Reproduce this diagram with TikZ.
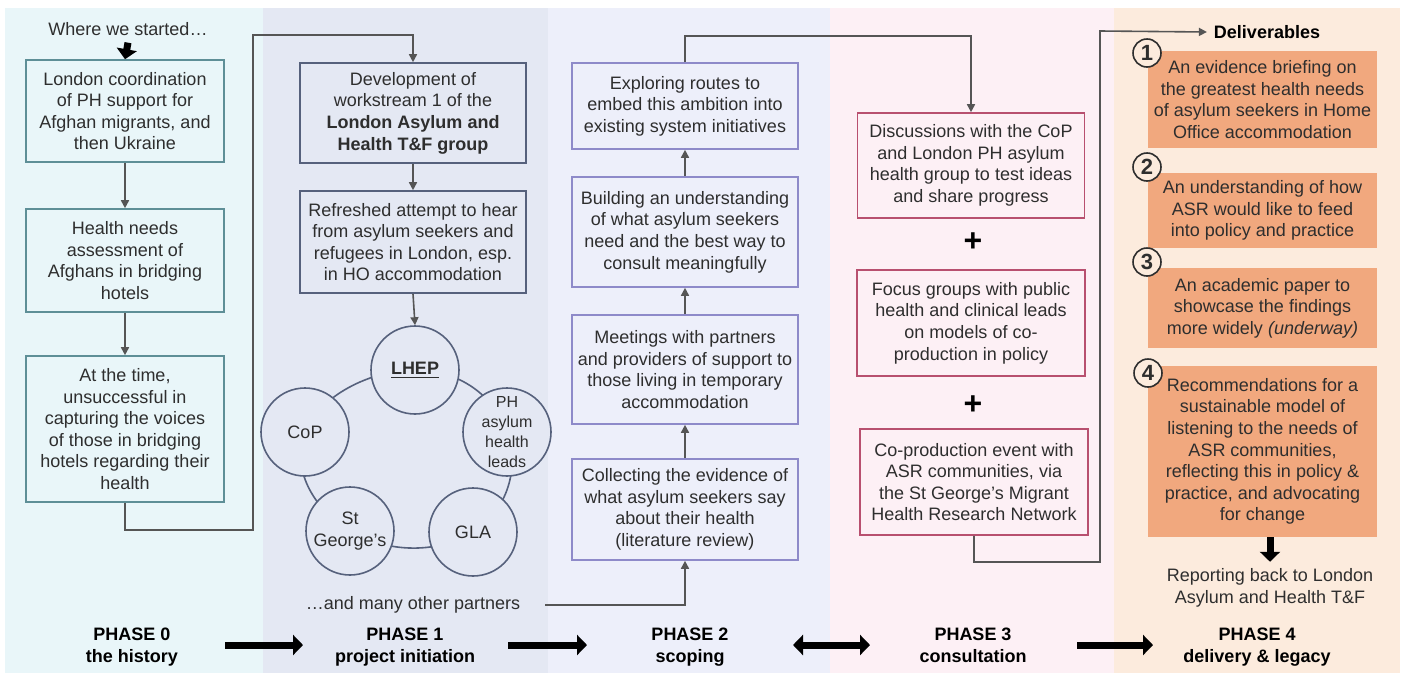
\documentclass[tikz,border=0pt]{standalone}
\usepackage{fontspec}
\setmainfont{Liberation Sans}
\usetikzlibrary{arrows.meta}
\definecolor{bg0}{HTML}{E9F6F9}
\definecolor{bg1}{HTML}{E4E8F3}
\definecolor{bg2}{HTML}{EDEFFA}
\definecolor{bg3}{HTML}{FDF0F5}
\definecolor{bg4}{HTML}{FCEBDD}
\definecolor{bd0}{HTML}{5E8F97}
\definecolor{bd1}{HTML}{56617C}
\definecolor{bd2}{HTML}{8E8AC9}
\definecolor{bd3}{HTML}{B8506F}
\definecolor{dfill}{HTML}{F1A87E}
\definecolor{txtc}{HTML}{2E2E2E}
\definecolor{linec}{HTML}{555555}
\begin{document}
\begin{tikzpicture}[x=0.5pt,y=-0.5pt,
  txt/.style={font=\fontsize{9}{10.8}\selectfont, text=txtc, align=center},
  box/.style={txt, draw, line width=0.8pt, inner sep=1pt},
  box0/.style={box, draw=bd0, fill=bg0},
  box1/.style={box, draw=bd1, fill=bg1},
  box2/.style={box, draw=bd2, fill=bg2},
  box3/.style={box, draw=bd3, fill=bg3},
  deliv/.style={txt, fill=dfill, inner sep=1pt, minimum width=114.5pt},
  partner/.style={circle, draw=bd1, fill=bg1, line width=0.8pt, minimum size=44pt, inner sep=0pt, txt},
  numc/.style={circle, draw=txtc, fill=bg4, line width=0.8pt, minimum size=14pt, inner sep=0pt, font=\fontsize{11}{11}\selectfont\bfseries, text=txtc},
  conn/.style={draw=linec, line width=0.8pt, -{Triangle[length=4pt,width=4pt]}},
  bigarrow/.style={draw=black, line width=3.5pt, -{Triangle[length=5pt,width=10pt]}},
  bigboth/.style={draw=black, line width=3.5pt, {Triangle[length=5pt,width=10pt]}-{Triangle[length=5pt,width=10pt]}},
  phase/.style={font=\fontsize{9}{10.8}\selectfont\bfseries, align=center, text=black, anchor=north},
  plus/.style={font=\fontsize{16}{16}\selectfont\bfseries, text=black}
]
\useasboundingbox (0,0) rectangle (1402,675);
\fill[white] (0,0) rectangle (1402,675);
% panels
\fill[bg0] (5,8) rectangle (263,673);
\fill[bg1] (263,8) rectangle (548,673);
\fill[bg2] (548,8) rectangle (830,673);
\fill[bg3] (830,8) rectangle (1114,673);
\fill[bg4] (1114,8) rectangle (1400,673);

% ---------- Phase 0
\node[txt] (where) at (128,29) {Where we started…};
\node[box0, minimum width=99pt, minimum height=51pt] (b1) at (125,111)
  {London coordination\\of PH support for\\Afghan migrants, and\\then Ukraine};
\node[box0, minimum width=99pt, minimum height=51.5pt] (b2) at (125,260.5)
  {Health needs\\assessment of\\Afghans in bridging\\hotels};
\node[box0, minimum width=99pt, minimum height=73pt] (b3) at (125,429)
  {At the time,\\unsuccessful in\\capturing the voices\\of those in bridging\\hotels regarding their\\health};
\draw[bigarrow] (where.south) -- (b1.north);
\draw[conn] (b1.south) -- (b2.north);
\draw[conn] (b2.south) -- (b3.north);

% ---------- Phase 1
\node[box1, minimum width=113pt, minimum height=50pt] (dev) at (413,113)
  {Development of\\workstream 1 of the\\\textbf{London Asylum and}\\\textbf{Health T\&F group}};
\node[box1, minimum width=113pt, minimum height=51pt] (refr) at (413,242)
  {Refreshed attempt to hear\\from asylum seekers and\\refugees in London, esp.\\in HO accommodation};
\coordinate (pL) at (415,370);
\coordinate (pP) at (507,432);
\coordinate (pG) at (473,532);
\coordinate (pS) at (350,531);
\coordinate (pC) at (305,432);
\draw[draw=bd1, line width=0.8pt] plot[smooth cycle, tension=0.8] coordinates {(pL) (pP) (pG) (pS) (pC)};
\node[partner] (lhep) at (pL) {\underline{\textbf{LHEP}}};
\node[partner, font=\fontsize{8}{10}\selectfont] (phl) at (pP) {PH\\asylum\\health\\leads};
\node[partner] (gla) at (pG) {GLA};
\node[partner] (stg) at (pS) {St\\George's};
\node[partner] (cop) at (pC) {CoP};
\draw[conn] (dev.south) -- (refr.north);
\draw[conn] (refr.south) -- (lhep.north);
\node[txt] (partners) at (413,605) {…and many other partners};

% ---------- Phase 2
\node[box2, minimum width=113pt, minimum height=43pt] (expl) at (685,106)
  {Exploring routes to\\embed this ambition into\\existing system initiatives};
\node[box2, minimum width=113pt, minimum height=55pt] (build) at (685,232)
  {Building an understanding\\of what asylum seekers\\need and the best way to\\consult meaningfully};
\node[box2, minimum width=113pt, minimum height=54.5pt] (meet) at (685,369.5)
  {Meetings with partners\\and providers of support to\\those living in temporary\\accommodation};
\node[box2, minimum width=113pt, minimum height=50.5pt] (coll) at (685,509.5)
  {Collecting the evidence of\\what asylum seekers say\\about their health\\(literature review)};
\draw[conn] (coll.north) -- (meet.south);
\draw[conn] (meet.north) -- (build.south);
\draw[conn] (build.north) -- (expl.south);

% ---------- Phase 3
\node[box3, minimum width=113.5pt, minimum height=52.5pt] (disc) at (971,165.5)
  {Discussions with the CoP\\and London PH asylum\\health group to test ideas\\and share progress};
\node[plus] (plus1) at (973,242) {+};
\node[box3, minimum width=114pt, minimum height=53pt] (focus) at (971,323)
  {Focus groups with public\\health and clinical leads\\on models of co-\\production in policy};
\node[plus] (plus2) at (973,405) {+};
\node[box3, minimum width=114pt, minimum height=53pt] (coprod) at (974,482)
  {Co-production event with\\ASR communities, via\\the St George's Migrant\\Health Research Network};

% ---------- Phase 4
\node[phase, anchor=center] (deliv) at (1267,32) {Deliverables};
\node[deliv, minimum height=48.5pt] (d1) at (1262.5,99.5)
  {An evidence briefing on\\the greatest health needs\\of asylum seekers in Home\\Office accommodation};
\node[deliv, minimum height=37.5pt] (d2) at (1262.5,210.5)
  {An understanding of how\\ASR would like to feed\\into policy and practice};
\node[deliv, minimum height=40pt] (d3) at (1262.5,308)
  {An academic paper to\\showcase the findings\\more widely \textit{(underway)}};
\node[deliv, minimum height=85.5pt] (d4) at (1262.5,451.5)
  {Recommendations for a\\sustainable model of\\listening to the needs of\\ASR communities,\\reflecting this in policy \&\\practice, and advocating\\for change};
\node[numc] (n1) at (1147,53) {1};
\node[numc] (n2) at (1147,167) {2};
\node[numc] (n3) at (1147,262) {3};
\node[numc] (n4) at (1148,373) {4};
\node[txt] (rep) at (1270,588) {Reporting back to London\\Asylum and Health T\&F};
\draw[bigarrow] (rep.north |- d4.south) -- (rep.north);

% ---------- cross-phase connectors
\coordinate (c0a) at (253,530);
\coordinate (c0b) at (253,35);
\draw[conn] (b3.south) |- (c0a) -- (c0b) -| (dev.north);
\coordinate (c1a) at (545,605);
\draw[conn] (c1a) -| (coll.south);
\coordinate (c2a) at (685,36);
\draw[conn] (expl.north) -- (c2a) -| (disc.north);
\coordinate (c3a) at (1100,562);
\coordinate (c3b) at (1100,31);
\draw[conn] (coprod.south) |- (c3a) -- (c3b) -- (deliv.west);

% ---------- phase labels
\node[phase] (ph0) at (132,621) {PHASE 0\\the history};
\node[phase] (ph1) at (405,621) {PHASE 1\\project initiation};
\node[phase] (ph2) at (690,621) {PHASE 2\\scoping};
\node[phase] (ph3) at (973,621) {PHASE 3\\consultation};
\node[phase] (ph4) at (1257,621) {PHASE 4\\delivery \& legacy};
\coordinate (a01s) at (225,645); \coordinate (a01e) at (303,645);
\coordinate (a12s) at (508,645); \coordinate (a12e) at (587,645);
\coordinate (a23s) at (793,645); \coordinate (a23e) at (870,645);
\coordinate (a34s) at (1077,645); \coordinate (a34e) at (1153,645);
\draw[bigarrow] (a01s) -- (a01e);
\draw[bigarrow] (a12s) -- (a12e);
\draw[bigboth] (a23s) -- (a23e);
\draw[bigarrow] (a34s) -- (a34e);
\end{tikzpicture}
\end{document}
